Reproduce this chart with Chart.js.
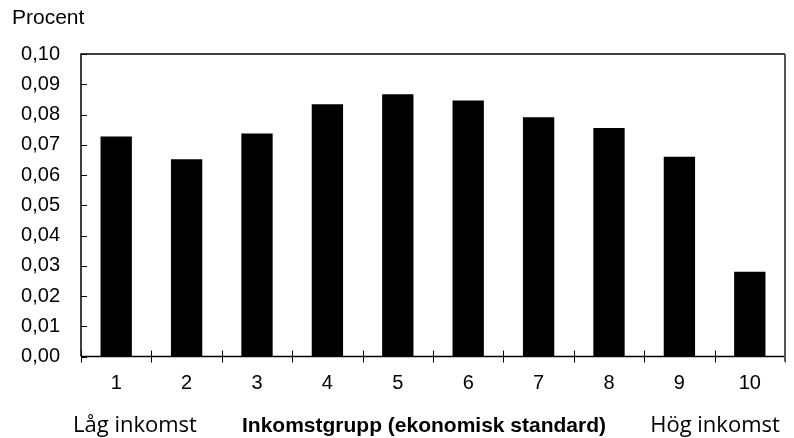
<!DOCTYPE html>
<html>
<head>
<meta charset="utf-8">
<script src="https://cdn.jsdelivr.net/npm/chart.js@4.4.1/dist/chart.umd.min.js"></script>
<style>
  body { margin: 0; background: #fff; }
  #chart { display: block; }
</style>
</head>
<body>
<canvas id="chart" width="794" height="438"></canvas>
<script>
// data
const groups = ['1', '2', '3', '4', '5', '6', '7', '8', '9', '10'];
const shares = [0.0727, 0.0652, 0.0737, 0.0834, 0.0867, 0.0846, 0.0791, 0.0755, 0.0660, 0.0280];
const yTicks = [0, 0.01, 0.02, 0.03, 0.04, 0.05, 0.06, 0.07, 0.08, 0.09, 0.10];

const yTitle = 'Procent';
const xTitle = 'Inkomstgrupp (ekonomisk standard)';
const lowLabel = 'Låg inkomst';
const highLabel = 'Hög inkomst';

Chart.defaults.font.family = '"Liberation Sans", Arial, sans-serif';
Chart.defaults.color = '#000';

// frame, inward tick marks and the loose labels
const framePlugin = {
    id: 'frame',
    afterDatasetsDraw(chart) {
        const {ctx, chartArea: a, scales: {x, y}} = chart;
        ctx.save();
        ctx.strokeStyle = '#000';
        ctx.lineWidth = 1;

        y.ticks.forEach((t, i) => {
            const py = Math.round(y.getPixelForTick(i)) + 0.5;
            ctx.beginPath();
            ctx.moveTo(a.left, py);
            ctx.lineTo(a.left + 6, py);
            ctx.stroke();
        });

        for (let i = 0; i <= groups.length; i++) {
            const px = Math.round(x.getPixelForValue(i - 0.5)) + 0.5;
            ctx.beginPath();
            ctx.moveTo(px, a.bottom - 6);
            ctx.lineTo(px, a.bottom + 6);
            ctx.stroke();
        }

        ctx.lineWidth = 1.5;
        ctx.beginPath();
        ctx.moveTo(a.left, a.bottom);
        ctx.lineTo(a.left, a.top);
        ctx.lineTo(a.right, a.top);
        ctx.moveTo(a.left, a.bottom);
        ctx.lineTo(a.right, a.bottom);
        ctx.stroke();
        ctx.strokeStyle = '#555';
        ctx.lineWidth = 2;
        ctx.beginPath();
        ctx.moveTo(a.right, a.top);
        ctx.lineTo(a.right, a.bottom + 5);
        ctx.stroke();

        ctx.fillStyle = '#000';
        ctx.textBaseline = 'alphabetic';
        ctx.textAlign = 'left';
        ctx.font = '21px "Liberation Sans", Arial, sans-serif';
        ctx.fillText(yTitle, 12, 24);

        ctx.textAlign = 'center';
        ctx.font = 'bold 21px "Liberation Sans", Arial, sans-serif';
        ctx.fillText(xTitle, 424, 432);
        ctx.font = '22px "Open Sans", sans-serif';
        ctx.fillText(lowLabel, 135, 432);
        ctx.fillText(highLabel, 715, 432);
        ctx.restore();
    }
};

new Chart(document.getElementById('chart'), {
    type: 'bar',
    data: {
        labels: groups,
        datasets: [{
            data: shares,
            backgroundColor: '#000',
            borderWidth: 0,
            categoryPercentage: 1,
            barPercentage: 0.445
        }]
    },
    options: {
        responsive: false,
        animation: false,
        layout: {padding: {top: 54, right: 9, left: 0, bottom: 0}},
        plugins: {legend: {display: false}, tooltip: {enabled: false}},
        scales: {
            x: {
                grid: {display: false},
                border: {display: false},
                ticks: {font: {size: 20}, padding: 7, maxRotation: 0},
                afterFit: (s) => { s.height = 81.5; }
            },
            y: {
                min: 0,
                max: 0.1,
                grid: {display: false},
                border: {display: false},
                afterBuildTicks: (s) => { s.ticks = yTicks.map(v => ({value: v})); },
                ticks: {
                    font: {size: 20},
                    padding: 13,
                    callback: (v) => v.toFixed(2).replace('.', ',')
                },
                afterFit: (s) => { s.width = 81; }
            }
        }
    },
    plugins: [framePlugin]
});
</script>
</body>
</html>
